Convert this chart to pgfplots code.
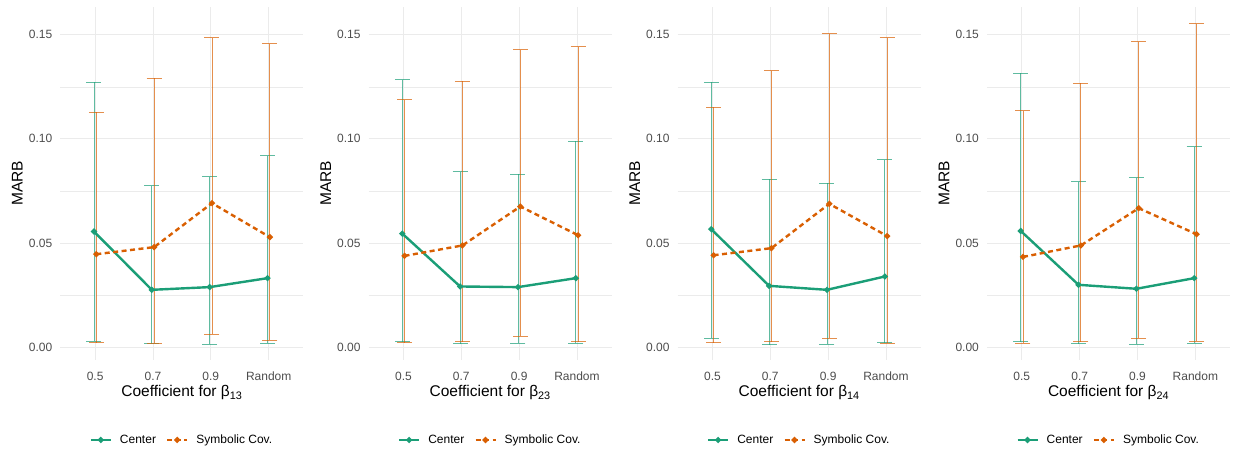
\documentclass[border=0pt]{standalone}
\usepackage{pgfplots}
\pgfplotsset{compat=1.18}
\usepackage{pgfplotstable}
\usepackage{fontspec}
\setmainfont{Liberation Sans}
\definecolor{cgreen}{HTML}{1B9E77}
\definecolor{corange}{HTML}{D95F02}
\definecolor{gridc}{HTML}{EBEBEB}
\definecolor{tickc}{HTML}{4D4D4D}

% panel 1 (beta 13)
\pgfplotstableread{
x y lo hi
-0.02 0.0555 0.0027 0.1272
0.98 0.0275 0.0016 0.0774
1.98 0.0288 0.0013 0.0817
2.98 0.0331 0.0019 0.0918
}\pAc
\pgfplotstableread{
x y lo hi
0.02 0.0446 0.0022 0.1129
1.02 0.0480 0.0018 0.1292
2.02 0.0691 0.0062 0.1486
3.02 0.0528 0.0034 0.1456
}\pAs
% panel 2 (beta 23)
\pgfplotstableread{
x y lo hi
-0.02 0.0545 0.0026 0.1284
0.98 0.0291 0.0016 0.0841
1.98 0.0288 0.0018 0.0830
2.98 0.0331 0.0019 0.0988
}\pBc
\pgfplotstableread{
x y lo hi
0.02 0.0438 0.0022 0.1187
1.02 0.0488 0.0026 0.1276
2.02 0.0675 0.0053 0.1427
3.02 0.0537 0.0026 0.1443
}\pBs
% panel 3 (beta 14)
\pgfplotstableread{
x y lo hi
-0.02 0.0566 0.0042 0.1272
0.98 0.0294 0.0011 0.0806
1.98 0.0275 0.0014 0.0787
2.98 0.0339 0.0022 0.0900
}\pCc
\pgfplotstableread{
x y lo hi
0.02 0.0441 0.0022 0.1153
1.02 0.0475 0.0026 0.1328
2.02 0.0688 0.0042 0.1505
3.02 0.0533 0.0019 0.1486
}\pCs
% panel 4 (beta 24)
\pgfplotstableread{
x y lo hi
-0.02 0.0558 0.0026 0.1316
0.98 0.0299 0.0016 0.0793
1.98 0.0280 0.0014 0.0814
2.98 0.0331 0.0019 0.0961
}\pDc
\pgfplotstableread{
x y lo hi
0.02 0.0433 0.0019 0.1134
1.02 0.0488 0.0026 0.1268
2.02 0.0667 0.0042 0.1467
3.02 0.0542 0.0029 0.1553
}\pDs

\pgfplotsset{
  panel/.style={
    scale only axis, width=243pt, height=353pt,
    anchor=south west,
    xmin=-0.6, xmax=3.6, ymin=-0.0062, ymax=0.1633,
    xtick={0,1,2,3}, xticklabels={0.5,0.7,0.9,Random},
    ytick={0,0.05,0.1,0.15}, minor ytick={0.025,0.075,0.125},
    /pgf/number format/assume math mode=true,
    yticklabel style={/pgf/number format/fixed, /pgf/number format/fixed zerofill, /pgf/number format/precision=2, inner sep=0pt, xshift=-8pt},
    xticklabel style={inner sep=0pt, yshift=-11.5pt},
    xmajorgrids, ymajorgrids, yminorgrids,
    major grid style={draw=gridc, line width=0.8pt},
    minor grid style={draw=gridc, line width=0.45pt},
    axis line style={draw=none},
    major tick length=0pt, minor tick length=0pt,
    tick label style={font=\fontsize{12}{14}\selectfont, text=tickc},
    label style={font=\fontsize{15.5}{18}\selectfont, text=black},
    ylabel={MARB},
    ylabel style={at={(axis description cs:-0.177,0.5)}, anchor=center, inner sep=0pt},
    xlabel style={at={(axis description cs:0.5,0)}, anchor=north, yshift=-25.5pt, inner sep=0pt},
    legend style={at={(0.5,-0.2266)}, anchor=center, draw=none, fill=none,
      legend columns=2, font=\fontsize{12}{14}\selectfont,
      /tikz/every odd column/.append style={column sep=6pt},
      /tikz/every even column/.append style={column sep=8pt}},
    legend image code/.code={\draw[mark repeat=2,mark phase=2,#1] plot coordinates {(0pt,0pt) (10pt,0pt) (20pt,0pt)};},
  },
  ebar/.style={draw=none, forget plot,
    error bars/.cd, y dir=both, y explicit,
    error bar style={draw=#1, line width=0.9pt, opacity=0.7, solid},
    error mark=-,
    error mark options={rotate=90, draw=#1, mark size=7.5pt, line width=0.9pt, opacity=0.7, solid}},
  cline/.style={cgreen, line width=2.4pt, mark=*, mark size=1.6pt},
  sline/.style={corange, line width=2.4pt, dash pattern=on 5pt off 3.5pt, mark=*, mark size=1.6pt, mark options={solid}},
}

\newcommand{\panel}[4]{%
\begin{axis}[panel, at={(#1,93pt)}, xlabel={Coefficient for β\textsubscript{#2}}]
\addplot[ebar=cgreen] table[x=x, y=y, y error plus expr=\thisrow{hi}-\thisrow{y}, y error minus expr=\thisrow{y}-\thisrow{lo}] {#3};
\addplot[ebar=corange] table[x=x, y=y, y error plus expr=\thisrow{hi}-\thisrow{y}, y error minus expr=\thisrow{y}-\thisrow{lo}] {#4};
\addplot[cline] table[x=x, y=y] {#3};
\addlegendentry{Center}
\addplot[sline] table[x=x, y=y] {#4};
\addlegendentry{Symbolic Cov.}
\end{axis}}

\begin{document}
\begin{tikzpicture}
\useasboundingbox (0,0) rectangle (1233pt,453pt);
\panel{60.4pt}{13}{\pAc}{\pAs}
\panel{368.7pt}{23}{\pBc}{\pBs}
\panel{677.7pt}{14}{\pCc}{\pCs}
\panel{987.1pt}{24}{\pDc}{\pDs}
\end{tikzpicture}
\end{document}
